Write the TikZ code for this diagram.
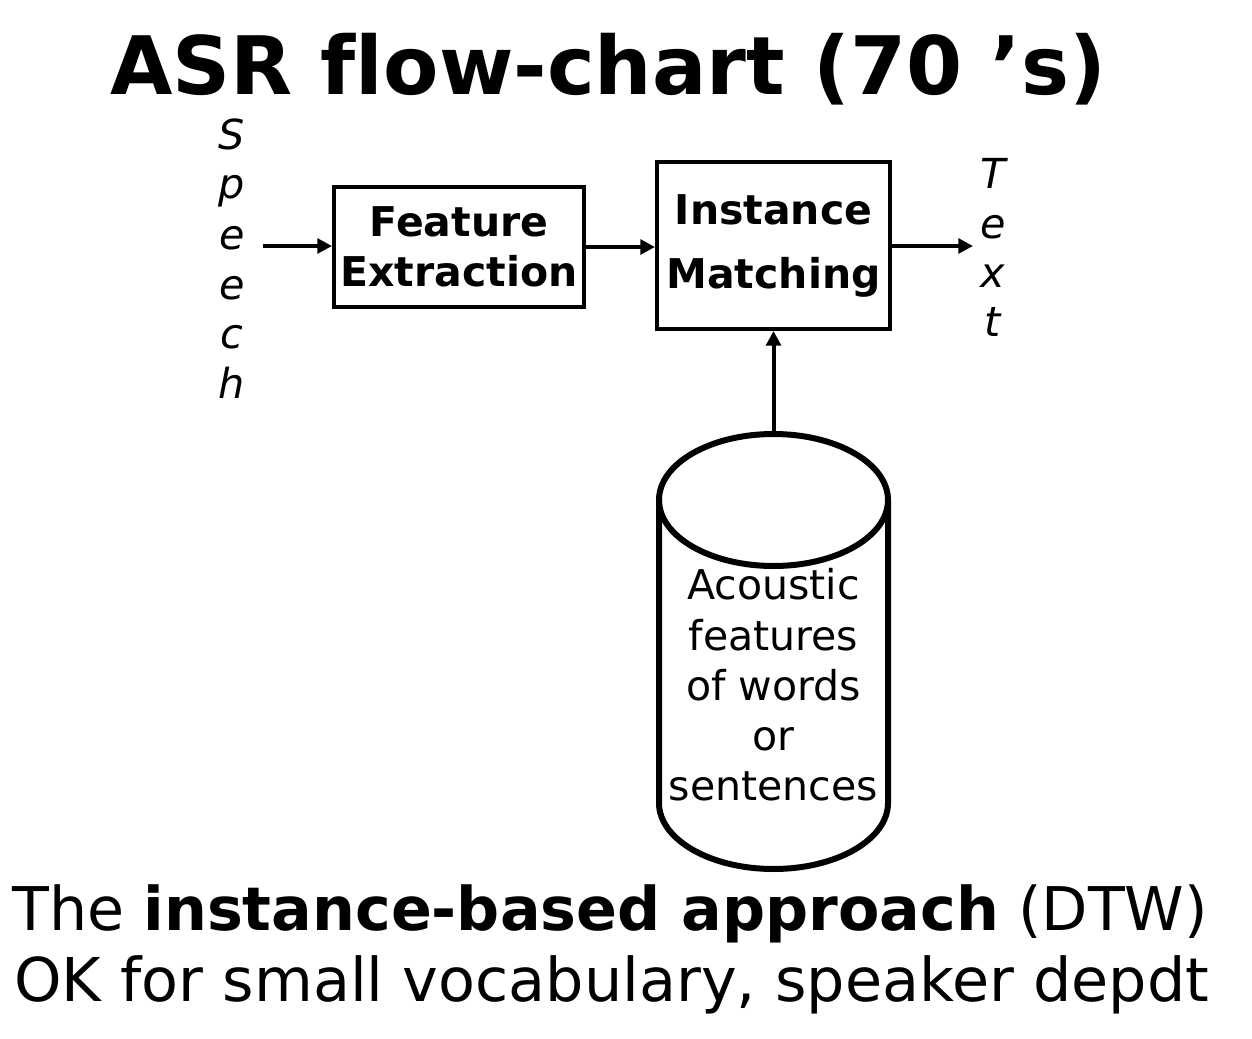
\documentclass[tikz,border=0pt]{standalone}
\usepackage{fontspec}
\setmainfont{DejaVu Sans}
\usetikzlibrary{arrows.meta}
\begin{document}
\begin{tikzpicture}[x=0.75pt,y=-0.75pt,
  box/.style={draw,line width=3pt,inner sep=0pt,align=center,font=\bfseries\fontsize{30.75}{37.5}\selectfont},
  conn/.style={line width=3pt,-{Triangle[length=11pt,width=11pt]}},
  vlet/.style={anchor=base,inner sep=0pt,font=\itshape\fontsize{31}{36}\selectfont},
  cyl/.style={line width=4.5pt}]
\useasboundingbox (0,0) rectangle (1252,1038);
\node[anchor=base,inner sep=0pt,font=\bfseries\fontsize{60.5}{70}\selectfont] (title) at (608,95) {ASR f\kern0pt low-chart (70 ’s)};
% Speech
\node[vlet] (s1) at (232,150) {S};
\node[vlet] (s2) at (232,199) {p};
\node[vlet] (s3) at (232,249) {e};
\node[vlet] (s4) at (232,299) {e};
\node[vlet] (s5) at (232,348) {c};
\node[vlet] (s6) at (232,398) {h};
% Text
\node[vlet] (t1) at (993,188) {T};
\node[vlet] (t2) at (993,238) {e};
\node[vlet] (t3) at (993,287) {x};
\node[vlet] (t4) at (993,336) {t};
% boxes
\node[box,minimum width=187.5pt,minimum height=90pt] (fe) at (459,247) {Feature\\Extraction};
\node[box,minimum width=174.75pt,minimum height=125.25pt,font=\bfseries\fontsize{30.75}{48}\selectfont,text depth=6pt] (im) at (773.5,245.5) {Instance\\Matching};
% cylinder
\draw[cyl] (773.5,500) ellipse [x radius=85.875pt, y radius=49.5pt];
\draw[cyl] (659,500) -- (659,803) arc[start angle=180, end angle=360, x radius=85.875pt, y radius=49.5pt] -- (888,500);
\node[align=center,inner sep=0pt,font=\fontsize{30.8}{37.7}\selectfont] (db) at (773.5,685) {Acoustic\\features\\of words\\or\\sentences};
\coordinate (cyltop) at (773.5,434);
\coordinate (spin) at (263,246);
\coordinate (txtout) at (973,246);
% connectors
\draw[conn] (spin) -- (spin -| fe.west);
\draw[conn] (fe.east) -- (fe.east -| im.west);
\draw[conn] (im.east |- txtout) -- (txtout);
\draw[conn] (cyltop) -- (cyltop |- im.south);
% bottom text
\node[anchor=base west,inner sep=0pt,font=\fontsize{45.2}{53}\selectfont] (l1) at (12,930) {The \textbf{instance-based approach} (DTW)};
\node[anchor=base west,inner sep=0pt,font=\fontsize{45.3}{53}\selectfont] (l2) at (14,1001) {OK for small vocabulary, speaker depdt};
\end{tikzpicture}
\end{document}
